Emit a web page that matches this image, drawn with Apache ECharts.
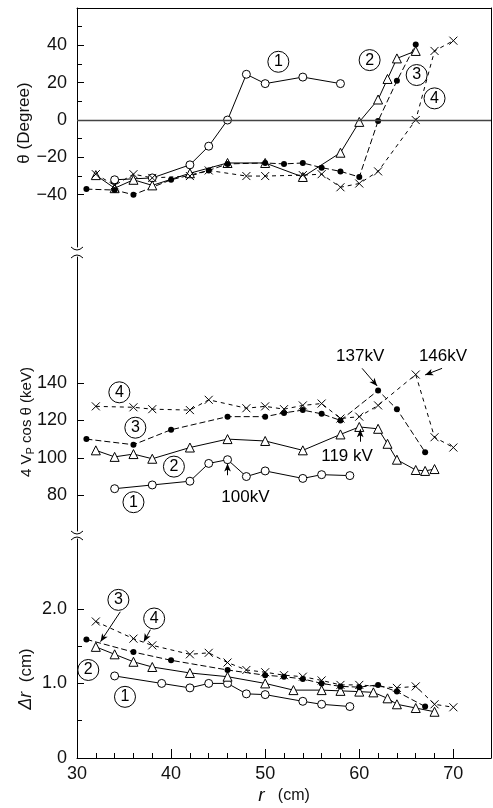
<!DOCTYPE html>
<html>
<head>
<meta charset="utf-8">
<script src="https://cdn.jsdelivr.net/npm/echarts@6/dist/echarts.min.js"></script>
<style>
  html, body { margin: 0; background: #fff; }
  #main { width: 493px; height: 808px; }
</style>
</head>
<body>
<div id="main"></div>
<script>
// ---- theta (degree), top panel ----
const thR1 = [34, 38, 42, 44, 46, 48, 50, 54, 58];
const th1 = [-32, -31, -24, -14, 0, 24.5, 19.5, 23, 19.5];
const thR2 = [32, 34, 36, 38, 42, 46, 50, 54, 58, 60, 62, 63, 64, 66];
const th2 = [-29.5, -36.5, -32, -35, -28.5, -23, -23, -30.5, -17.5, -1, 11, 22, 33, 37];
const thR3 = [31, 34, 36, 40, 44, 46, 50, 52, 54, 56, 58, 60, 62, 64, 66];
const th3 = [-37, -37.5, -40, -32, -27, -23.5, -23, -23.5, -23, -25.5, -27.5, -30.5, -0.5, 21, 40.5];
const thR4 = [32, 34, 36, 38, 42, 44, 48, 50, 54, 56, 58, 60, 62, 66, 68, 70];
const th4 = [-29, -35, -29, -31, -30, -27, -30, -30, -29.5, -29, -36, -34, -27.5, 0, 37, 42.5];

// ---- 4 Vp cos theta (keV), middle panel ----
const evR1 = [34, 38, 42, 44, 46, 48, 50, 54, 56, 59];
const ev1 = [83.5, 85.5, 87.5, 97, 99, 90, 93, 89, 91, 90.5];
const evR2 = [32, 34, 36, 38, 42, 46, 50, 54, 58, 60, 62, 63, 64, 66, 67, 68];
const ev2 = [104, 100.5, 102, 99.5, 105.5, 110, 109, 104, 112.5, 116.5, 115.5, 107.5, 99, 93.5, 93, 94];
const evR3 = [31, 36, 40, 46, 50, 52, 54, 56, 58, 62, 64, 67];
const ev3 = [110, 107, 115, 122, 122, 124, 125.5, 123.5, 120, 136, 126, 103];
const evR4 = [32, 36, 38, 42, 44, 48, 50, 52, 54, 56, 58, 60, 62, 66, 68, 70];
const ev4 = [127.5, 127, 126, 125.5, 131, 126.5, 127.5, 126, 128, 129, 121, 122, 128, 144.5, 111, 105.5];

// ---- delta r (cm), bottom panel ----
const drR1 = [34, 39, 42, 44, 46, 48, 50, 54, 56, 59];
const dr1 = [1.1, 1.0, 0.94, 1.0, 1.0, 0.86, 0.85, 0.76, 0.72, 0.69];
const drR2 = [32, 34, 36, 38, 42, 46, 50, 53, 56, 58, 60, 61.5, 63, 64, 66, 68];
const dr2 = [1.49, 1.39, 1.29, 1.22, 1.14, 1.09, 1.0, 0.91, 0.91, 0.9, 0.89, 0.88, 0.8, 0.72, 0.67, 0.62];
const drR3 = [31, 36, 40, 46, 50, 52, 54, 56, 58, 60, 62, 64, 67];
const dr3 = [1.59, 1.42, 1.31, 1.18, 1.11, 1.09, 1.06, 1.0, 0.96, 0.95, 0.98, 0.89, 0.69];
const drR4 = [32, 36, 38, 42, 44, 46, 48, 50, 52, 54, 56, 58, 60, 64, 66, 68, 70];
const dr4 = [1.83, 1.6, 1.51, 1.39, 1.41, 1.28, 1.18, 1.15, 1.11, 1.09, 1.04, 0.98, 0.98, 0.94, 0.96, 0.72, 0.68];

// ---- ticks ----
const xMajor = [30, 40, 50, 60, 70];
const xMinor = [32, 34, 36, 38, 42, 44, 46, 48, 52, 54, 56, 58, 62, 64, 66, 68];
const thTicks = [-40, -20, 0, 20, 40];
const thMinor = [-30, -10, 10, 30, 50];
const evTicks = [80, 100, 120, 140];
const drTicks = [0, 1, 2];
const drMinor = [0.5, 1.5];

const FONT = 'Liberation Sans';
const chart = echarts.init(document.getElementById('main'));

const pts = (xs, ys) => xs.map((x, i) => [x, ys[i]]);

const marks = [
  { symbol: 'circle', size: 8, item: { color: '#fff', borderColor: '#000', borderWidth: 1 }, dash: 'solid' },
  { symbol: 'triangle', size: 9, item: { color: '#fff', borderColor: '#000', borderWidth: 1 }, dash: 'solid' },
  { symbol: 'circle', size: 6, item: { color: '#000', borderColor: '#000', borderWidth: 0 }, dash: [6, 3] },
  { symbol: 'path://M0,0L10,10M10,0L0,10', size: 8, item: { color: '#000', borderColor: '#000', borderWidth: 1 }, dash: [4, 4] },
];

function curve(k, ax, xs, ys, extra) {
  const m = marks[k];
  return Object.assign({
    type: 'line',
    xAxisIndex: ax,
    yAxisIndex: ax === 0 ? 0 : ax === 1 ? 2 : 3,
    data: pts(xs, ys),
    symbol: m.symbol,
    symbolSize: m.size,
    showAllSymbol: true,
    itemStyle: m.item,
    lineStyle: { color: '#000', width: 1, type: m.dash },
    silent: true,
    animation: false,
  }, extra || {});
}

const circ = (n, c) => ({
  coord: c, symbol: 'circle', symbolSize: 21,
  itemStyle: { color: '#fff', borderColor: '#000', borderWidth: 1 },
  label: { show: true, position: 'inside', formatter: n, color: '#000', fontSize: 16, fontFamily: FONT },
});
const note = (t, c) => ({
  coord: c, symbol: 'circle', symbolSize: 1,
  itemStyle: { color: 'rgba(0,0,0,0)' },
  label: { show: true, position: 'inside', formatter: t, color: '#000', fontSize: 17, fontFamily: FONT },
});
const arrow = (a, b) => [{ coord: a }, { coord: b }];
const arrowStyle = {
  silent: true, animation: false, symbol: ['none', 'arrow'], symbolSize: [5, 8],
  lineStyle: { color: '#000', width: 1, type: 'solid' }, label: { show: false },
};

const tickLabel = { color: '#111', fontSize: 18, fontFamily: FONT, margin: 10 };
const line = { show: true, onZero: false, lineStyle: { color: '#000', width: 1 } };

const xBase = { type: 'value', min: 30, max: 74, splitLine: { show: false } };

const option = {
  animation: false,
  backgroundColor: '#fff',
  grid: [
    { left: 77, width: 414, top: 8, height: 239, outerBoundsMode: 'none' },
    { left: 77, width: 414, top: 257, height: 274, outerBoundsMode: 'none' },
    { left: 77, width: 414, top: 539, height: 219, outerBoundsMode: 'none' },
    { left: 77, width: 414, top: 8, height: 750, outerBoundsMode: 'none' },
  ],
  xAxis: [
    Object.assign({}, xBase, { gridIndex: 0, show: false }),
    Object.assign({}, xBase, { gridIndex: 1, show: false }),
    Object.assign({}, xBase, {
      gridIndex: 2, position: 'bottom', axisLine: line,
      axisTick: { inside: true, length: 9, customValues: xMajor, lineStyle: { color: '#000' } },
      axisLabel: Object.assign({ customValues: xMajor }, tickLabel, { margin: 7 }),
      name: '{i|r}   (cm)', nameLocation: 'middle', nameGap: 28,
      nameTextStyle: { color: '#111', fontSize: 16, fontFamily: FONT, rich: { i: { fontSize: 19, fontStyle: 'italic', fontFamily: FONT } } },
    }),
    Object.assign({}, xBase, {
      gridIndex: 2, position: 'bottom', axisLine: { show: false },
      axisTick: { inside: true, length: 5, customValues: xMinor, lineStyle: { color: '#000' } },
      axisLabel: { show: false },
    }),
    Object.assign({}, xBase, {
      gridIndex: 3, position: 'top', axisLine: line,
      axisTick: { show: false }, axisLabel: { show: false },
    }),
  ],
  yAxis: [
    {
      type: 'value', gridIndex: 0, min: -68, max: 60, position: 'left', splitLine: { show: false },
      axisLine: line,
      axisTick: { inside: true, length: 7, customValues: thTicks, lineStyle: { color: '#000' } },
      axisLabel: Object.assign({ customValues: thTicks, formatter: v => String(v).replace('-', '\u2212') }, tickLabel),
    },
    {
      type: 'value', gridIndex: 0, min: -68, max: 60, position: 'left', splitLine: { show: false },
      axisLine: { show: false },
      axisTick: { inside: true, length: 5, customValues: thMinor, lineStyle: { color: '#000' } },
      axisLabel: { show: false },
    },
    {
      type: 'value', gridIndex: 1, min: 60.9, max: 207.3, position: 'left', splitLine: { show: false },
      axisLine: line,
      axisTick: { inside: true, length: 7, customValues: evTicks, lineStyle: { color: '#000' } },
      axisLabel: Object.assign({ customValues: evTicks }, tickLabel),
    },
    {
      type: 'value', gridIndex: 2, min: 0, max: 2.936, position: 'left', splitLine: { show: false },
      axisLine: line,
      axisTick: { inside: true, length: 7, customValues: drTicks, lineStyle: { color: '#000' } },
      axisLabel: Object.assign({ customValues: drTicks, formatter: v => (v === 0 ? '0' : v.toFixed(1)) }, tickLabel),
    },
    {
      type: 'value', gridIndex: 2, min: 0, max: 2.936, position: 'left', splitLine: { show: false },
      axisLine: { show: false },
      axisTick: { inside: true, length: 5, customValues: drMinor, lineStyle: { color: '#000' } },
      axisLabel: { show: false },
    },
    {
      type: 'value', gridIndex: 3, min: 0, max: 1, position: 'right', splitLine: { show: false },
      axisLine: line, axisTick: { show: false }, axisLabel: { show: false },
    },
  ],
  series: [
    // top panel
    curve(0, 0, thR1, th1, {
      markLine: {
        silent: true, animation: false, symbol: 'none', label: { show: false },
        lineStyle: { color: '#444', width: 1.3, type: 'solid' },
        data: [{ yAxis: 0 }],
      },
    }),
    curve(1, 0, thR2, th2),
    curve(2, 0, thR3, th3),
    curve(3, 0, thR4, th4, {
      markPoint: {
        silent: true, animation: false,
        data: [circ('1', [51.4, 31.2]), circ('2', [61.1, 32.1]), circ('3', [66.1, 24.1]), circ('4', [68.0, 11.6])],
      },
    }),
    // middle panel
    curve(0, 1, evR1, ev1),
    curve(1, 1, evR2, ev2),
    curve(2, 1, evR3, ev3),
    curve(3, 1, evR4, ev4, {
      markPoint: {
        silent: true, animation: false,
        data: [
          circ('4', [34.5, 135]), circ('3', [36.2, 116.1]), circ('2', [40.3, 95.3]), circ('1', [36.0, 76.3]),
          note('137kV', [60.1, 154]), note('146kV', [68.9, 154]),
          note('119 kV', [58.7, 100.6]), note('100kV', [47.9, 78.7]),
        ],
      },
      markLine: Object.assign({
        data: [
          arrow([60.3, 147.8], [61.9, 138.4]),
          arrow([68.8, 147.8], [67.0, 144.3]),
          arrow([60.1, 108.6], [60.1, 115.2]),
          arrow([46.0, 90.7], [46.0, 97]),
        ],
      }, arrowStyle),
    }),
    // bottom panel
    curve(0, 2, drR1, dr1),
    curve(1, 2, drR2, dr2),
    curve(2, 2, drR3, dr3),
    curve(3, 2, drR4, dr4, {
      markPoint: {
        silent: true, animation: false,
        data: [circ('3', [34.4, 2.12]), circ('4', [38.2, 1.87]), circ('2', [31.2, 1.18]), circ('1', [35.1, 0.82])],
      },
      markLine: Object.assign({
        data: [
          arrow([34.6, 1.96], [32.5, 1.56]),
          arrow([37.8, 1.72], [37.1, 1.56]),
        ],
      }, arrowStyle),
    }),
  ],
  graphic: [
    {
      type: 'text', x: 24, y: 123, rotation: Math.PI / 2,
      style: { text: '\u03b8 (Degree)', font: '17px "Liberation Sans"', fill: '#111', align: 'center', verticalAlign: 'middle', textAlign: 'center', textVerticalAlign: 'middle' },
    },
    {
      type: 'text', x: 27, y: 422, rotation: Math.PI / 2,
      style: {
        text: '4 V{s|P} cos \u03b8 (keV)', font: '15px "Liberation Sans"', fill: '#111',
        align: 'center', verticalAlign: 'middle', textAlign: 'center', textVerticalAlign: 'middle',
        rich: { s: { fontSize: 11, fontFamily: FONT, fill: '#111', padding: [7, 0, 0, 0] } },
      },
    },
    {
      type: 'text', x: 26, y: 679, rotation: Math.PI / 2,
      style: {
        text: '{i|\u0394r}  (cm)', font: '17px "Liberation Sans"', fill: '#111',
        align: 'center', verticalAlign: 'middle', textAlign: 'center', textVerticalAlign: 'middle',
        rich: { i: { fontSize: 18, fontStyle: 'italic', fontFamily: FONT, fill: '#111' } },
      },
    },
    // axis breaks
    { type: 'bezierCurve', shape: { x1: 71, y1: 247, x2: 83, y2: 247, cpx1: 77, cpy1: 253 }, style: { stroke: '#000', lineWidth: 1, fill: null } },
    { type: 'bezierCurve', shape: { x1: 71, y1: 258, x2: 83, y2: 258, cpx1: 77, cpy1: 252 }, style: { stroke: '#000', lineWidth: 1, fill: null } },
    { type: 'bezierCurve', shape: { x1: 71, y1: 531, x2: 83, y2: 531, cpx1: 77, cpy1: 537 }, style: { stroke: '#000', lineWidth: 1, fill: null } },
    { type: 'bezierCurve', shape: { x1: 71, y1: 540, x2: 83, y2: 540, cpx1: 77, cpy1: 534 }, style: { stroke: '#000', lineWidth: 1, fill: null } },
  ],
};

chart.setOption(option);
</script>
</body>
</html>
